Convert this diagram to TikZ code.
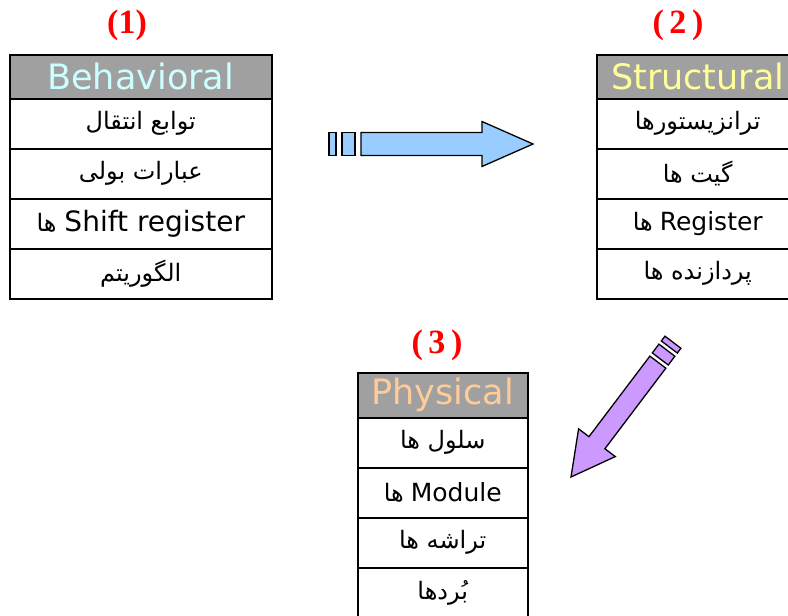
\documentclass[tikz,border=0pt]{standalone}
\usepackage{fontspec}
\setmainfont{DejaVu Sans}
\newfontfamily\fa[Script=Arabic]{DejaVu Sans}
\newfontfamily\ttlfont{Liberation Serif}
\TeXXeTstate=1
\definecolor{hdrgray}{HTML}{A0A0A0}
\definecolor{behcol}{HTML}{CCFFFF}
\definecolor{strcol}{HTML}{FFFF99}
\definecolor{phycol}{HTML}{FFCC99}
\definecolor{arrblue}{HTML}{99CCFF}
\definecolor{arrpurple}{HTML}{CC99FF}
\begin{document}
\begin{tikzpicture}[x=1pt,y=1pt,
  cell/.style={draw, line width=1.5pt, anchor=north west, inner sep=0pt, minimum height=50pt},
  hdr/.style={cell, fill=hdrgray, minimum height=44pt, font=\fontsize{35}{35}\selectfont},
  fatxt/.style={font=\fa\fontsize{24}{24}\selectfont},
  ttl/.style={text=red, font=\ttlfont\bfseries\fontsize{34}{34}\selectfont},
  blockarr/.style={draw, line width=1.3pt, line join=miter}
]
\clip (0,0) rectangle (788,-616);
\fill[white] (0,0) rectangle (788,-616);

% titles
\node[ttl] (t1) at (127,-25) {(1)};
\node[ttl] (t2) at (678,-25) {(\,2\,)};
\node[ttl] (t3) at (437,-345) {(\,3\,)};

% table 1
\node[hdr, minimum width=262pt, text=behcol] (b0) at (9,-54) {Behavioral};
\node[cell, minimum width=262pt, fatxt] (b1) at (9,-98) {\beginR توابع انتقال\endR};
\node[cell, minimum width=262pt, fatxt] (b2) at (9,-148) {\beginR عبارات بولی\endR};
\node[cell, minimum width=262pt] (b3) at (9,-198) {{\fa\fontsize{24}{24}\selectfont\beginR ها\endR}\hspace{8pt}{\fontsize{28}{28}\selectfont Shift register}};
\node[cell, minimum width=262pt, fatxt] (b4) at (9,-248) {\beginR الگوریتم\endR};

% table 2
\node[hdr, minimum width=202pt, text=strcol] (s0) at (596,-54) {Structural};
\node[cell, minimum width=202pt, fatxt] (s1) at (596,-98) {\beginR ترانزیستورها\endR};
\node[cell, minimum width=202pt, fatxt] (s2) at (596,-148) {\beginR گیت ها\endR};
\node[cell, minimum width=202pt] (s3) at (596,-198) {{\fa\fontsize{24}{24}\selectfont\beginR ها\endR}\hspace{7pt}{\fontsize{25}{25}\selectfont Register}};
\node[cell, minimum width=202pt, fatxt] (s4) at (596,-248) {\beginR پردازنده ها\endR};

% table 3
\node[hdr, minimum width=170pt, minimum height=45pt, text=phycol] (p0) at (357,-372) {Physical};
\node[cell, minimum width=170pt, fatxt] (p1) at (357,-417) {\beginR سلول ها\endR};
\node[cell, minimum width=170pt] (p2) at (357,-467) {{\fa\fontsize{24}{24}\selectfont\beginR ها\endR}\hspace{7pt}{\fontsize{25}{25}\selectfont Module}};
\node[cell, minimum width=170pt, fatxt] (p3) at (357,-517) {\beginR تراشه ها\endR};
\node[cell, minimum width=170pt, fatxt] (p4) at (357,-567) {\beginR بُردها\endR};

% blue block arrow
\begin{scope}[shift={(533,-144)}, rotate=180]
  \draw[blockarr, fill=arrblue] (0,0) -- (51,22.5) -- (51,11.5) -- (172,11.5) -- (172,-11.5) -- (51,-11.5) -- (51,-22.5) -- cycle;
  \draw[blockarr, fill=arrblue] (178,-11.5) rectangle (191,11.5);
  \draw[blockarr, fill=arrblue] (197,-11.5) rectangle (204,11.5);
\end{scope}

% purple block arrow
\begin{scope}[shift={(571,-477)}, rotate=52.9]
  \draw[blockarr, fill=arrpurple] (0,0) -- (43,23) -- (43,10) -- (144,10) -- (144,-10) -- (43,-10) -- (43,-23) -- cycle;
  \draw[blockarr, fill=arrpurple] (148,-10) rectangle (159,10);
  \draw[blockarr, fill=arrpurple] (163,-10) rectangle (169,10);
\end{scope}
\end{tikzpicture}
\end{document}
